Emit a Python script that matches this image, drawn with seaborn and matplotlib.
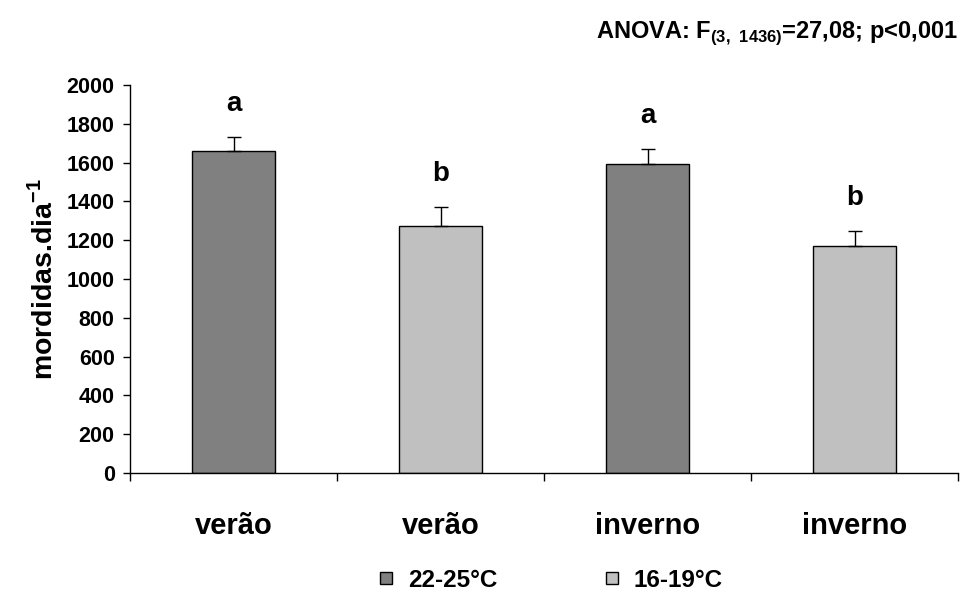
import seaborn as sns
import matplotlib.pyplot as plt
import pandas as pd

# dados
grupos = ['v_quente', 'v_frio', 'i_quente', 'i_frio']
rotulos_x = ['verão', 'verão', 'inverno', 'inverno']
temperaturas = ['22-25°C', '16-19°C', '22-25°C', '16-19°C']
mordidas = [1660, 1272, 1593, 1168]
erros = [72, 100, 78, 82]
letras = ['a', 'b', 'a', 'b']
cores = {'22-25°C': '#808080', '16-19°C': '#c0c0c0'}


def seaborn_settings():
    '''
    Tema branco, fonte parecida com Arial em negrito, texto preto
    '''
    sns.set_theme(style='white')
    plt.rcParams['font.family'] = ['Liberation Sans', 'DejaVu Sans']
    plt.rcParams['font.weight'] = 'bold'
    plt.rcParams['text.color'] = 'black'
    plt.rcParams['axes.labelcolor'] = 'black'
    plt.rcParams['xtick.color'] = 'black'
    plt.rcParams['ytick.color'] = 'black'
    plt.rcParams['mathtext.fontset'] = 'custom'
    plt.rcParams['mathtext.rm'] = 'Liberation Sans:bold'
    plt.rcParams['mathtext.bf'] = 'Liberation Sans:bold'


def grafico_mordidas(df):
    fig = plt.figure(figsize=(9.71, 5.92), dpi=100)
    ax = fig.add_axes([0.1339, 0.201, 0.853, 0.6554])

    sns.barplot(data=df, x='grupo', y='mordidas', hue='temp', palette=cores,
                dodge=False, width=0.4, edgecolor='black', linewidth=1,
                legend=False, ax=ax)
    ax.errorbar(range(len(df)), df['mordidas'], yerr=[[0] * len(df), df['erro']],
                fmt='none', ecolor='black', elinewidth=1, capsize=5, capthick=1)

    for i, (v, e, l) in enumerate(zip(df['mordidas'], df['erro'], df['letra'])):
        ax.text(i, v + e + 170, l, ha='center', va='center', fontsize=20,
                fontweight='bold')

    ax.set_ylim(0, 2000)
    ax.set_xlim(-0.5, 3.5)
    ax.set_yticks(range(0, 2001, 200))
    ax.tick_params(axis='y', labelsize=15.5, length=5, width=1, direction='out',
                   left=True, color='black', pad=6)
    ax.set_xticks(range(len(df)))
    ax.set_xticklabels(rotulos_x, fontsize=21, fontweight='bold')
    ax.set_xticks([-0.5, 0.5, 1.5, 2.5, 3.5], minor=True)
    ax.tick_params(axis='x', which='major', length=0, pad=28)
    ax.tick_params(axis='x', which='minor', length=6, width=1, direction='out',
                   bottom=True, color='black')
    for lbl in ax.get_yticklabels():
        lbl.set_fontweight('bold')

    ax.set_xlabel('')
    ax.set_ylabel(r'mordidas.dia$^{\mathrm{-1}}$', fontsize=20.5, fontweight='bold',
                  labelpad=6)
    sns.despine(ax=ax)
    for s in ['left', 'bottom']:
        ax.spines[s].set_color('black')
        ax.spines[s].set_linewidth(1)

    handles = [plt.Line2D([], [], marker='s', linestyle='none', markersize=9,
                          markerfacecolor=cores[t], markeredgecolor='black',
                          markeredgewidth=1) for t in cores]
    fig.legend(handles, list(cores), loc='center', bbox_to_anchor=(0.565, 0.02),
               ncol=2, frameon=False, columnspacing=4.2, handlelength=1.0,
               handletextpad=0.4, prop={'weight': 'bold', 'size': 17.5})

    fig.text(0.987, 0.944, r'ANOVA: F$_{\mathrm{(3,\ 1436)}}$=27,08; p<0,001',
             ha='right', va='center', fontsize=17, fontweight='bold')
    fig.savefig('out.png', dpi=100)


seaborn_settings()
dados = pd.DataFrame({'grupo': grupos, 'temp': temperaturas, 'mordidas': mordidas,
                      'erro': erros, 'letra': letras})
grafico_mordidas(dados)
